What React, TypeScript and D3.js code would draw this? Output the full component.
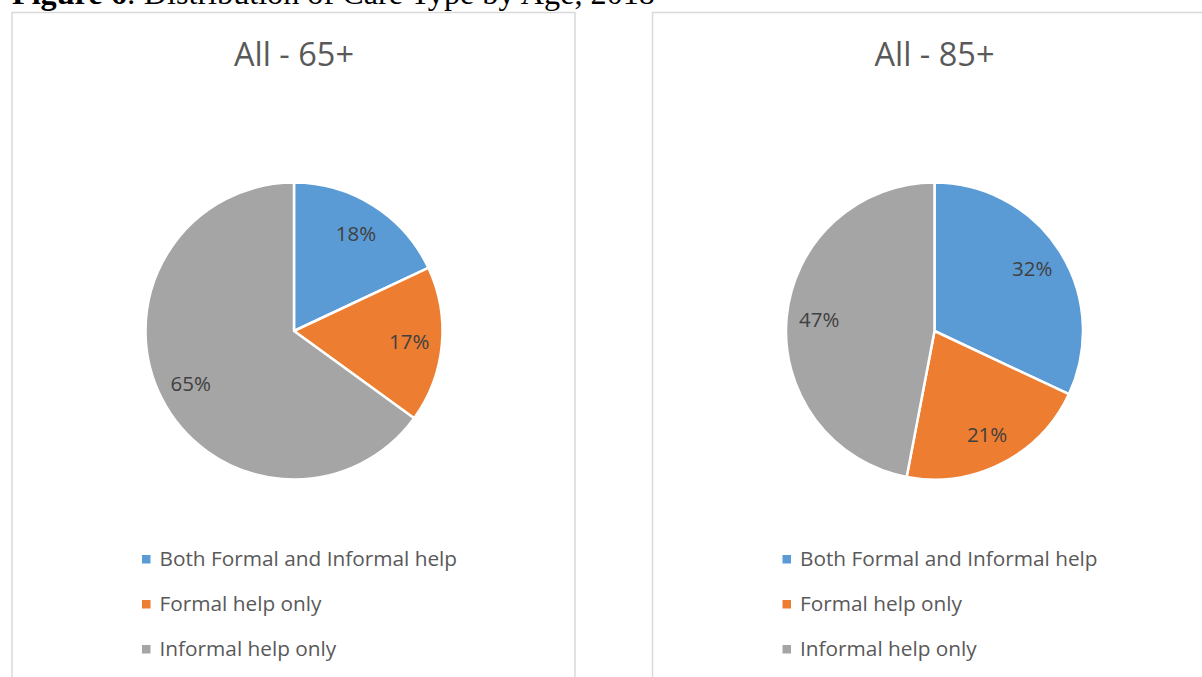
import React from "react";
import * as d3 from "d3";

const categories = ["Both Formal and Informal help", "Formal help only", "Informal help only"];
const colors = ["#5B9BD5", "#ED7D31", "#A5A5A5"];
const panelTitles = ["All - 65+", "All - 85+"];
const values65 = [18, 17, 65];
const values85 = [32, 21, 47];
const captionBold = "Figure 6";
const captionRest = ": Distribution of Care Type by Age, 2018";

const W = 1202;
const H = 677;

function Panel({ x0, title, values }: { x0: number; title: string; values: number[] }) {
  const panelW = 563;
  const cx = x0 + 282;
  const cy = 331;
  const r = 148.5;
  const pie = d3.pie<number>().sort(null).value((d) => d).startAngle(0).endAngle(2 * Math.PI);
  const arcs = pie(values);
  const arc = d3.arc<d3.PieArcDatum<number>>().innerRadius(0).outerRadius(r);
  const labelArc = d3.arc<d3.PieArcDatum<number>>().innerRadius(r * 0.78).outerRadius(r * 0.78);
  const total = d3.sum(values);
  const font = "'Open Sans', sans-serif";
  return (
    <g>
      <rect x={x0} y={12.5} width={panelW} height={H + 20} fill="#fff" stroke="#D9D9D9" strokeWidth={1.5} />
      <text x={cx} y={66} textAnchor="middle" fontFamily={font} fontSize={32.5} fill="#595959">
        {title}
      </text>
      <g transform={`translate(${cx},${cy})`}>
        {arcs.map((a, i) => (
          <path key={i} d={arc(a) || ""} fill={colors[i]} stroke="#fff" strokeWidth={2.5} strokeLinejoin="round" />
        ))}
        {arcs.map((a, i) => {
          const [lx, ly] = labelArc.centroid(a);
          return (
            <text key={"l" + i} x={lx} y={ly} dy="0.36em" textAnchor="middle" fontFamily={font} fontSize={20.5} fill="#404040">
              {Math.round((a.data / total) * 100)}%
            </text>
          );
        })}
      </g>
      {categories.map((c, i) => (
        <g key={c}>
          <rect x={x0 + 130} y={555 + i * 45} width={8.5} height={8.5} fill={colors[i]} />
          <text x={x0 + 147.5} y={566 + i * 45} fontFamily={font} fontSize={20.8} fill="#595959">
            {c}
          </text>
        </g>
      ))}
    </g>
  );
}

export default function App() {
  return (
    <svg
      width={W}
      height={H}
      viewBox={`0 0 ${W} ${H}`}
      style={{ position: "absolute", left: 0, top: 0, background: "#fff", display: "block" }}
    >
      <rect x={0} y={0} width={W} height={H} fill="#fff" />
      <Panel x0={12} title={panelTitles[0]} values={values65} />
      <Panel x0={652.5} title={panelTitles[1]} values={values85} />
      <text x={12} y={4} fontFamily="'Liberation Serif', 'Times New Roman', serif" fontSize={32.2} fill="#000">
        <tspan fontWeight="bold">{captionBold}</tspan>
        <tspan>{captionRest}</tspan>
      </text>
    </svg>
  );
}
